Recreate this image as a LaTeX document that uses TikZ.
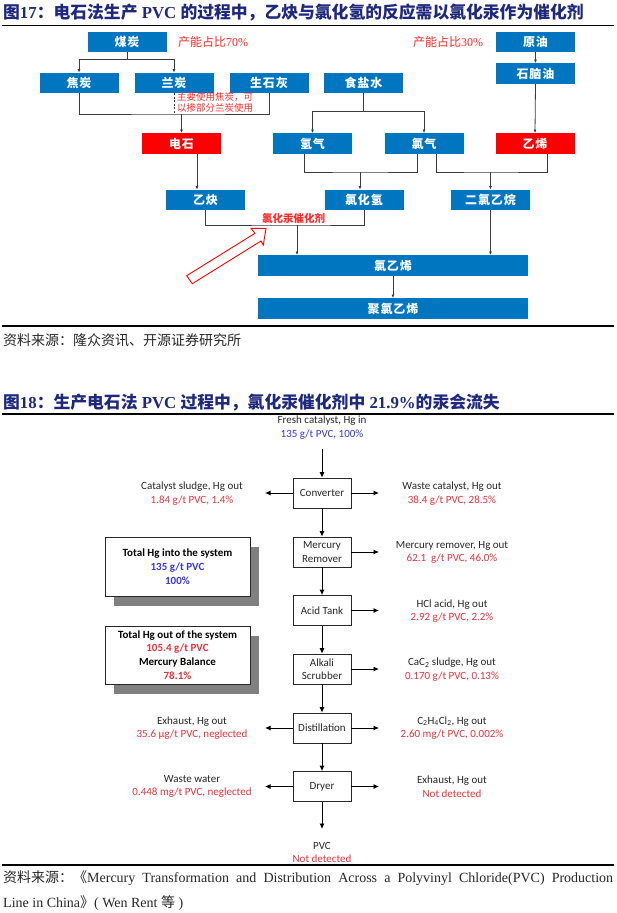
\documentclass[tikz,border=0pt]{standalone}
\usepackage{fontspec}
\setmainfont{Liberation Serif}
\newfontfamily\cjk{Noto Sans CJK SC}
\newfontfamily\cjkbox[LetterSpace=8]{Noto Sans CJK SC}
\newfontfamily\cali{Carlito}
\usetikzlibrary{arrows.meta,shadows}

\definecolor{boxblue}{RGB}{0,118,192}
\definecolor{boxred}{RGB}{255,0,0}
\definecolor{titleblue}{RGB}{30,40,125}
\definecolor{annred}{RGB}{255,40,40}
\definecolor{hgred}{RGB}{232,50,60}
\definecolor{hgblue}{RGB}{55,55,225}
\definecolor{txtgray}{RGB}{40,40,40}
\definecolor{shadowgray}{RGB}{128,128,128}
\definecolor{linegray}{RGB}{60,60,60}

\tikzset{
  bluebox/.style={fill=boxblue, text=white, minimum width=79pt, minimum height=20.5pt, inner sep=0pt,
    font=\cjkbox\bfseries\fontsize{12}{12}\selectfont},
  redbox/.style={bluebox, fill=boxred},
  conn/.style={draw=linegray, line width=0.8pt},
  arr/.style={conn, -{Latex[length=3.5pt,width=3pt]}},
  pbox/.style={draw=txtgray, line width=0.8pt, fill=white, minimum width=58pt, minimum height=30pt,
    inner sep=1pt, align=center, font=\cali\fontsize{11}{13.5}\selectfont, text=txtgray},
  harr/.style={draw=black, line width=0.8pt, -{Latex[length=5.5pt,width=5pt]}},
  lab/.style={align=center, font=\cali\fontsize{11}{13.5}\selectfont, text=txtgray, inner sep=0pt},
  shbox/.style={draw=txtgray, line width=0.8pt, fill=white,
    drop shadow={shadow xshift=9pt, shadow yshift=-10pt, fill=shadowgray, opacity=1},
    minimum width=145pt, align=center, inner sep=0pt, text=black},
  rulel/.style={draw=black, line width=1.3pt},
  ann/.style={text=annred, inner sep=0pt, anchor=west},
  ttl/.style={anchor=west, inner sep=0pt, text=titleblue, font=\bfseries\fontsize{16.8}{17}\selectfont},
  src/.style={anchor=west, inner sep=0pt, text=txtgray, font=\fontsize{14}{14}\selectfont},
}

\begin{document}
\begin{tikzpicture}[x=1pt,y=-1pt]
\useasboundingbox (0,0) rectangle (616,913);
\fill[white] (0,0) rectangle (616,913);

% ---------- Figure 17 ----------
\node[ttl] (t17) at (3,13) {{\cjk 图}17{\cjk ：电石法生产} PVC {\cjk 的过程中，乙炔与氯化氢的反应需以氯化汞作为催化剂}};
\draw[rulel] (2,25.5) -- (614,25.5);

\node[bluebox] (mt) at (127,42) {煤炭};
\node[bluebox] (jt) at (79,83) {焦炭};
\node[bluebox] (lt) at (174,83) {兰炭};
\node[bluebox] (sh) at (269,83) {生石灰};
\node[bluebox] (sy) at (363.5,83) {食盐水};
\node[bluebox] (yy) at (535.5,42) {原油};
\node[bluebox] (sn) at (535.5,73.5) {石脑油};
\node[redbox] (ds) at (181.5,143.5) {电石};
\node[bluebox] (qq) at (312.5,143.5) {氢气};
\node[bluebox] (lq) at (424,143.5) {氯气};
\node[redbox] (yx) at (535,143.5) {乙烯};
\node[bluebox] (yq) at (205.5,200) {乙炔};
\node[bluebox] (lhq) at (364,200) {氯化氢};
\node[bluebox] (eyw) at (490.5,200) {二氯乙烷};
\node[bluebox, minimum width=270pt] (lyx) at (393,265.5) {氯乙烯};
\node[bluebox, minimum width=270pt] (jlyx) at (393,308.5) {聚氯乙烯};

\node[ann, font=\cjk\fontsize{12}{12}\selectfont] (cap70) at (178,42) {产能占比{\rmfamily 70\%}};
\node[ann, font=\cjk\fontsize{12}{12}\selectfont] (cap30) at (413,42) {产能占比{\rmfamily 30\%}};
\node[ann, anchor=north west, align=left, font=\cjk\fontsize{9.5}{10.5}\selectfont] (note) at (177,92.5) {主要使用焦炭，可\\以掺部分兰炭使用};
\node[ann, font=\cjk\bfseries\fontsize{10.5}{10.5}\selectfont] (cat) at (262,218.5) {氯化汞催化剂};

% connectors
\draw[arr] (mt.south) -- ++(0,7) -| (jt.north);
\draw[arr] (mt.south) -- ++(0,7) -| (lt.north);
\coordinate (bus1) at (181.5,114);
\draw[conn] (jt.south) |- (bus1) -| (sh.south);
\draw[conn, dash pattern=on 2pt off 1.5pt] (lt.south) -- (lt.south |- bus1);
\draw[arr] (bus1) -- (ds.north);

\draw[arr] (sy.south) -- ++(0,18) -| (qq.north);
\draw[arr] (sy.south) -- ++(0,18) -| (lq.north);
\draw[arr] (yy.south) -- (sn.north);
\draw[arr] (sn.south) -- (yx.north);

\coordinate (c1) at ([xshift=15.5pt]ds.south);
\draw[arr] (c1) -- (c1 |- yq.north);

\coordinate (q1) at ([xshift=-8.5pt]qq.south);
\coordinate (l1) at ([xshift=-7pt]lq.south);
\coordinate (bus2) at (360,172);
\draw[conn] (q1) |- (bus2) -| (l1);
\draw[arr] (bus2) -- (bus2 |- lhq.north);

\coordinate (l2) at ([xshift=12pt]lq.south);
\coordinate (y2) at ([xshift=12pt]yx.south);
\coordinate (bus3) at (490.5,172);
\draw[conn] (l2) |- (bus3) -| (y2);
\draw[arr] (bus3) -- (eyw.north);

\coordinate (bus4) at (297,225);
\draw[conn] (yq.south) |- (bus4) -| (lhq.south);
\draw[arr] (bus4) -- (bus4 |- lyx.north);
\draw[arr] (eyw.south) -- (eyw.south |- lyx.north);
\draw[arr] (lyx.south) -- (jlyx.north);

% hollow arrow
\draw[draw=red, fill=white, line width=0.9pt, line join=miter]
  (186.7,275.7) -- (255,233.3) -- (251,228.3) -- (266,228.5) -- (263.3,245) -- (261,241) -- (192.3,283.7) -- cycle;

\draw[rulel] (2,326) -- (614,326);
\node[src, font=\cjk\fontsize{14}{14}\selectfont] (src1) at (3,340) {资料来源：隆众资讯、开源证券研究所};

% ---------- Figure 18 ----------
\node[ttl] (t18) at (3,403) {{\cjk 图}18{\cjk ：生产电石法} PVC {\cjk 过程中，氯化汞催化剂中} 21.9\%{\cjk 的汞会流失}};
\draw[rulel] (2,414) -- (614,414);

\node[pbox] (conv) at (322,493) {Converter};
\node[pbox] (mr) at (322,552) {Mercury\\Remover};
\node[pbox] (acid) at (322,610.5) {Acid Tank};
\node[pbox] (alk) at (322,669) {Alkali\\Scrubber};
\node[pbox] (dist) at (322,728) {Distillation};
\node[pbox] (dry) at (322,786.5) {Dryer};

\coordinate (L) at (265,0);
\coordinate (R) at (379,0);
\coordinate (fin) at (322,449);
\coordinate (pout) at (322,829);

\node[lab] (fresh) at (322,427.5) {Fresh catalyst, Hg in\\\textcolor{hgblue}{135 g/t PVC, 100\%}};
\draw[harr] (fin) -- (conv.north);
\draw[harr] (conv.west) -- (conv.west -| L);
\draw[harr] (conv.east) -- (conv.east -| R);
\node[lab] (cs) at (192,493.5) {Catalyst sludge, Hg out\\\textcolor{hgred}{1.84 g/t PVC, 1.4\%}};
\node[lab] (wc) at (452,493.5) {Waste catalyst, Hg out\\\textcolor{hgred}{38.4 g/t PVC, 28.5\%}};

\draw[harr] (conv.south) -- (mr.north);
\draw[harr] (mr.east) -- (mr.east -| R);
\node[lab] (mro) at (452,552.5) {Mercury remover, Hg out\\\textcolor{hgred}{62.1\ \ g/t PVC, 46.0\%}};

\draw[harr] (mr.south) -- (acid.north);
\draw[harr] (acid.east) -- (acid.east -| R);
\node[lab] (hcl) at (452,611) {HCl acid, Hg out\\\textcolor{hgred}{2.92 g/t PVC, 2.2\%}};

\draw[harr] (acid.south) -- (alk.north);
\draw[harr] (alk.east) -- (alk.east -| R);
\node[lab] (cac) at (452,669.5) {CaC\textsubscript{2} sludge, Hg out\\\textcolor{hgred}{0.170 g/t PVC, 0.13\%}};

\draw[harr] (alk.south) -- (dist.north);
\draw[harr] (dist.west) -- (dist.west -| L);
\draw[harr] (dist.east) -- (dist.east -| R);
\node[lab] (exh1) at (192,728) {Exhaust, Hg out\\\textcolor{hgred}{35.6 µg/t PVC, neglected}};
\node[lab] (edc) at (452,728) {C\textsubscript{2}H\textsubscript{4}Cl\textsubscript{2}, Hg out\\\textcolor{hgred}{2.60 mg/t PVC, 0.002\%}};

\draw[harr] (dist.south) -- (dry.north);
\draw[harr] (dry.west) -- (dry.west -| L);
\draw[harr] (dry.east) -- (dry.east -| R);
\node[lab] (ww) at (192,786.5) {Waste water\\\textcolor{hgred}{0.448 mg/t PVC, neglected}};
\node[lab] (exh2) at (452,786.5) {Exhaust, Hg out\\\textcolor{hgred}{Not detected}};

\draw[harr] (dry.south) -- (pout);
\node[lab] (pvc) at (322,852.5) {PVC\\\textcolor{hgred}{Not detected}};

\node[shbox, minimum height=59pt, font=\cali\bfseries\fontsize{11}{14}\selectfont] (tin) at (177.5,566.5)
  {Total Hg into the system\\\textcolor{hgblue}{135 g/t PVC}\\\textcolor{hgblue}{100\%}};
\node[shbox, minimum height=58pt, font=\cali\bfseries\fontsize{11}{13.7}\selectfont] (tout) at (177.5,655)
  {Total Hg out of the system\\\textcolor{hgred}{105.4 g/t PVC}\\Mercury Balance\\\textcolor{hgred}{78.1\%}};

\draw[rulel] (2,865) -- (614,865);
\node[src] (src2a) at (3,878) {\makebox[610pt][s]{{\cjk 资料来源：《}Mercury Transformation and Distribution Across a Polyvinyl Chloride(PVC) Production}};
\node[src] (src2b) at (3,903) {Line in China{\cjk 》}( Wen Rent {\cjk 等} )};
\end{tikzpicture}
\end{document}
